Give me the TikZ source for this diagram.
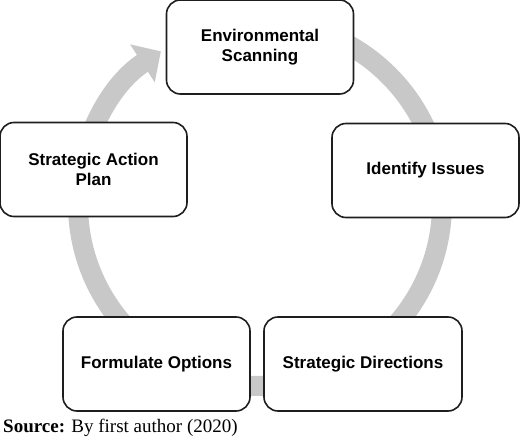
\documentclass[tikz,border=0pt]{standalone}
\usepackage{fontspec}
\setmainfont{Liberation Serif}
\setsansfont{Liberation Sans}
\usetikzlibrary{arrows.meta}
\definecolor{cyclegrey}{RGB}{200,200,200}
\definecolor{boxline}{RGB}{30,30,30}

\begin{document}
\begin{tikzpicture}[x=1pt,y=1pt,
  stage/.style={draw=boxline, line width=1.6pt, fill=white, rounded corners=14pt,
    minimum width=187pt, minimum height=94pt, align=center,
    font=\sffamily\bfseries\fontsize{17}{20}\selectfont},
  cyclearrow/.style={cyclegrey, line width=20pt, -{Triangle[width=44pt,length=22pt]}}]
\useasboundingbox (0,0) rectangle (520,440);

% Grey circular arrow behind the stages
\draw[cyclearrow] (260,236) ++(90:182) arc[start angle=90, end angle=-237, radius=182];

% Stages of the cycle, clockwise from the top
\node[stage] (scan) at (260,393) {Environmental\\Scanning};
\node[stage] (issues) at (425.5,269.5) {Identify Issues};
\node[stage, minimum width=198pt] (directions) at (363,76) {Strategic Directions};
\node[stage] (options) at (156.5,76) {Formulate Options};
\node[stage] (action) at (93.5,270.5) {Strategic Action\\Plan};

% Source line
\node[anchor=base west, inner sep=0pt, font=\fontsize{19}{22}\selectfont] (source) at (3,8) {\textbf{Source:} By first author (2020)};
\end{tikzpicture}
\end{document}
